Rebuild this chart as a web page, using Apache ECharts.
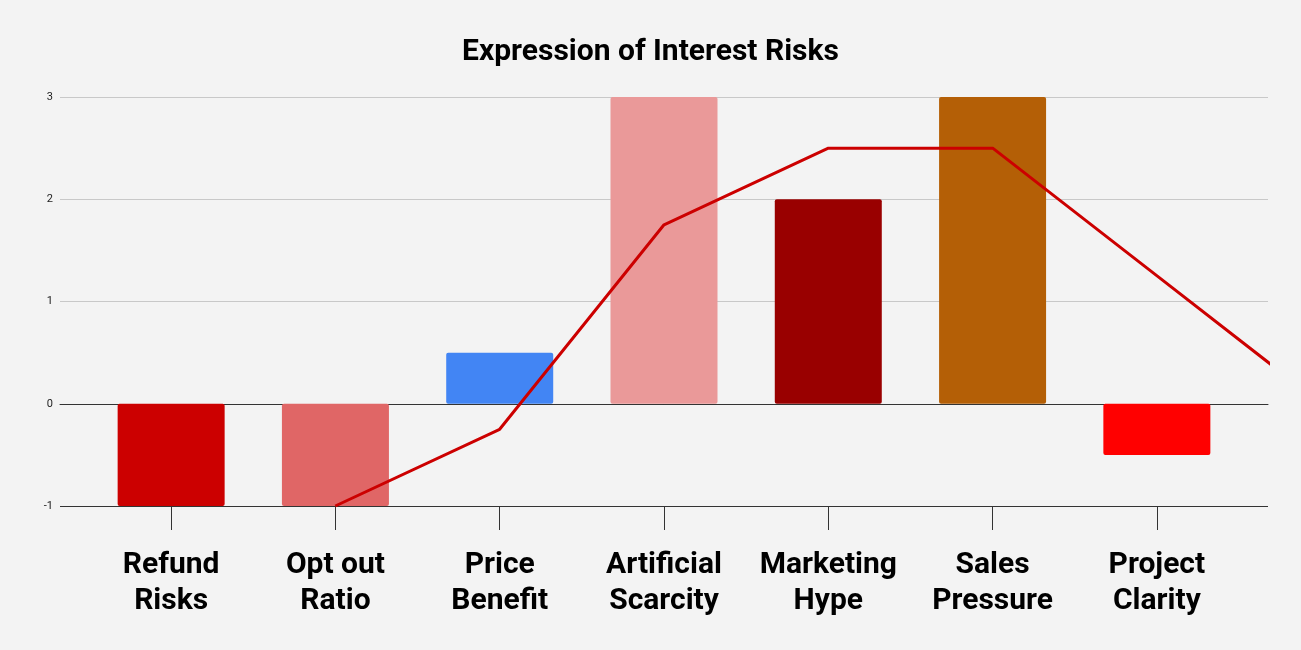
<!DOCTYPE html>
<html>
<head>
<meta charset="utf-8">
<script src="https://cdn.jsdelivr.net/npm/echarts@6/dist/echarts.min.js"></script>
<style>
html,body{margin:0;padding:0;background:#f3f3f3;}
#chart{width:1301px;height:650px;}
</style>
</head>
<body>
<div id="chart"></div>
<script>
const categories = ['Refund\nRisks', 'Opt out\nRatio', 'Price\nBenefit', 'Artificial\nScarcity', 'Marketing\nHype', 'Sales\nPressure', 'Project\nClarity'];
const riskValues = [-1, -1, 0.5, 3, 2, 3, -0.5];
const trendValues = [null, -1, -0.25, 1.75, 2.5, 2.5, 1.25, 0];
const yTicks = [-1, 0, 1, 2, 3];

const barColors = ['#cc0000', '#e06666', '#4285f4', '#ea9999', '#990000', '#b45f06', '#ff0000'];

const chart = echarts.init(document.getElementById('chart'), null, {renderer: 'canvas'});
const trendData = trendValues.map((v, i) => v === null ? null : [i, v]).filter(d => d);

chart.setOption({
  backgroundColor: '#f3f3f3',
  animation: false,
  title: {
    text: 'Expression of Interest Risks',
    left: 'center',
    top: 32,
    textStyle: {fontFamily: 'Roboto', fontWeight: 'bold', fontSize: 30, color: '#000'}
  },
  grid: [
    {left: 60, right: 33, top: 97, bottom: 144},
    {left: 89, right: 62, top: 97, bottom: 144}
  ],
  xAxis: [
    {gridIndex: 0, type: 'value', min: -0.675, max: 6.675, show: true,
     axisLine: {show: true, onZero: true, lineStyle: {color: '#333', width: 1}},
     axisTick: {show: false}, axisLabel: {show: false}, splitLine: {show: false}},
    {gridIndex: 1, type: 'category', data: categories,
     axisLine: {show: false, onZero: false},
     axisTick: {show: true, alignWithLabel: true, length: 24, lineStyle: {color: '#333'}},
     axisLabel: {interval: 0, margin: 41, fontFamily: 'Roboto', fontWeight: 'bold', fontSize: 30, lineHeight: 36, color: '#000'}}
  ],
  yAxis: [
    {gridIndex: 0, type: 'value', min: yTicks[0], max: yTicks[yTicks.length - 1], interval: 1,
     axisLine: {show: false}, axisTick: {show: false},
     axisLabel: {fontFamily: 'Roboto', fontSize: 11, color: '#222', margin: 7},
     splitLine: {lineStyle: {color: ['#333', '#333', '#c8c8c8', '#c8c8c8', '#c8c8c8'], width: 1}}},
    {gridIndex: 1, type: 'value', min: yTicks[0], max: yTicks[yTicks.length - 1], interval: 1, show: false}
  ],
  series: [
    {type: 'bar', xAxisIndex: 1, yAxisIndex: 1, barWidth: 107,
     data: riskValues.map((v, i) => ({value: v, itemStyle: {color: barColors[i], borderRadius: 2}}))},
    {type: 'line', xAxisIndex: 0, yAxisIndex: 0, data: trendData, symbol: 'none', clip: true,
     lineStyle: {color: '#cc0000', width: 3}, z: 5}
  ]
});
</script>
</body>
</html>
